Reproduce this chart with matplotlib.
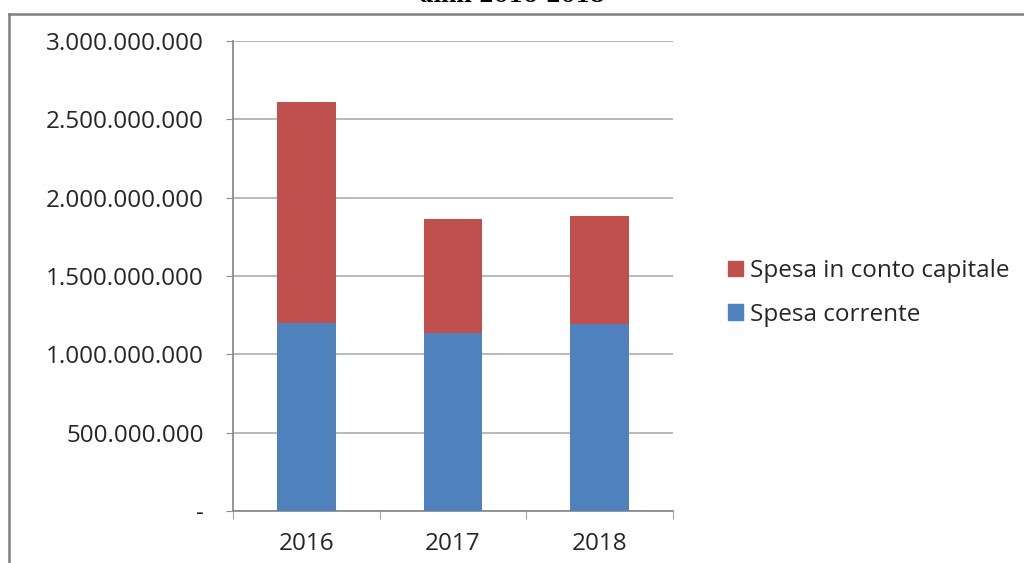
import matplotlib
matplotlib.use("Agg")
import matplotlib.pyplot as plt
from matplotlib.lines import Line2D
from matplotlib.patches import Patch

years = ["2016", "2017", "2018"]
spesa_corrente = [1.20e9, 1.135e9, 1.195e9]
spesa_capitale = [1.41e9, 0.73e9, 0.69e9]
y_ticks = [0, 5e8, 1e9, 1.5e9, 2e9, 2.5e9, 3e9]
y_tick_labels = ["-", "500.000.000", "1.000.000.000", "1.500.000.000",
                 "2.000.000.000", "2.500.000.000", "3.000.000.000"]
title = "anni 2016-2018"

blue = "#4F81BD"
red = "#C0504D"
txt = "#262626"
font = ["Open Sans", "DejaVu Sans"]

W, H = 1024, 563
fig = plt.figure(figsize=(W / 100, H / 100), dpi=100)
fig.patch.set_facecolor("white")

# outer frame
fig.add_artist(Line2D([9 / W, 9 / W], [0, 1 - 14 / H], transform=fig.transFigure,
                      color="#7f7f7f", lw=1.8))
fig.add_artist(Line2D([9 / W, 1.01], [1 - 14 / H, 1 - 14 / H], transform=fig.transFigure,
                      color="#7f7f7f", lw=1.8))

# cut-off title (the reference image crops it at the top edge)
fig.text(512 / W, 1 + 4 / H, title, ha="center", va="center", fontsize=15,
         fontweight="bold", family=["DejaVu Serif"], color="black")

ax = fig.add_axes([233 / W, 1 - 511 / H, 440 / W, 470 / H])
x = range(len(years))
ax.bar(x, spesa_corrente, width=0.4, color=blue, zorder=3, label="Spesa corrente")
ax.bar(x, spesa_capitale, width=0.4, bottom=spesa_corrente, color=red, zorder=3,
       label="Spesa in conto capitale")

ax.set_xlim(-0.5, len(years) - 0.5)
ax.set_ylim(0, 3e9)
ax.set_yticks(y_ticks)
ax.set_yticklabels(y_tick_labels, fontsize=17.5, color=txt, family=font)
ax.set_xticks(list(x))
ax.set_xticklabels(years, fontsize=17.5, color=txt, family=font)
ax.set_xticks([-0.5, 0.5, 1.5, 2.5], minor=True)
ax.tick_params(axis="x", which="major", length=0, pad=15)
ax.tick_params(axis="x", which="minor", length=6, color="#8c8c8c", direction="out")
ax.tick_params(axis="y", length=5, color="#8c8c8c", pad=16)

ax.yaxis.grid(True, color="#b3b3b3", lw=1.3, zorder=0)
for s in ["top", "right"]:
    ax.spines[s].set_visible(False)
ax.spines["left"].set_color("#8c8c8c")
ax.spines["bottom"].set_color("#8c8c8c")
ax.spines["left"].set_linewidth(1.3)
ax.spines["bottom"].set_linewidth(1.3)

handles = [Patch(color=red, label="Spesa in conto capitale"),
           Patch(color=blue, label="Spesa corrente")]
fig.legend(handles=handles, loc="center left", bbox_to_anchor=(711 / W, 1 - 293 / H),
           frameon=False, prop={"family": font, "size": 17.5}, labelcolor=txt,
           handlelength=0.6, handleheight=0.6, handletextpad=0.3, labelspacing=0.8,
           borderpad=0.2)

fig.savefig("out.png", dpi=100, facecolor="white")
